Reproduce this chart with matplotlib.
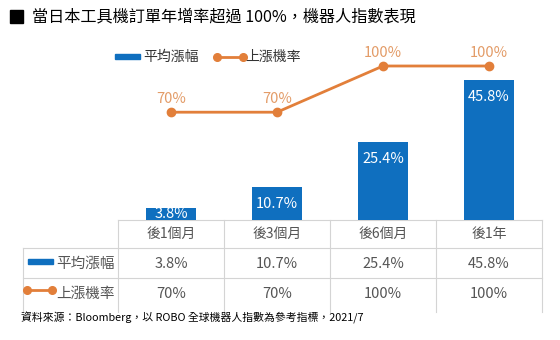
import matplotlib
matplotlib.use("Agg")
import matplotlib.pyplot as plt
from matplotlib.patches import Rectangle
from matplotlib.lines import Line2D

plt.rcParams['font.family'] = ['Noto Sans CJK TC', 'DejaVu Sans']

# data
periods = ["後1個月", "後3個月", "後6個月", "後1年"]
avg_gain = [3.8, 10.7, 25.4, 45.8]
up_prob = [70, 70, 100, 100]
bar_name = "平均漲幅"
line_name = "上漲機率"
title = "當日本工具機訂單年增率超過 100%，機器人指數表現"
source = "資料來源：Bloomberg，以 ROBO 全球機器人指數為參考指標，2021/7"

BLUE = "#0F6FBF"
ORANGE = "#E27F3A"
ORANGE_TXT = "#E39C68"
GRAY = "#555555"
GRID = "#D4D4D4"

W, H = 560, 340
fig = plt.figure(figsize=(W / 100, H / 100), dpi=100)

# overlay axes in pixel coords for table, title, legend
ov = fig.add_axes([0, 0, 1, 1])
ov.set_xlim(0, W)
ov.set_ylim(H, 0)
ov.axis("off")

# main chart axes
x0, x1, ybase, ytop = 118, 542, 220, 50
ax = fig.add_axes([x0 / W, 1 - ybase / H, (x1 - x0) / W, (ybase - ytop) / H])
ax.set_xlim(-0.5, len(periods) - 0.5)
ax.set_ylim(0, 170 / 3.057)
ax.axis("off")
ax2 = ax.twinx()
ax2.set_ylim(0, 170 / 1.54)
ax2.axis("off")

xs = list(range(len(periods)))
ax.bar(xs, avg_gain, width=0.47, color=BLUE, zorder=2)
for xi, v in zip(xs, avg_gain):
    yl = v / 2 if v < 6 else v - 5.6
    ax.text(xi, yl, f"{v}%", color="white", ha="center", va="center", fontsize=10.5)

ax2.plot(xs, up_prob, color=ORANGE, lw=2, marker="o", ms=6, zorder=3)
for xi, v in zip(xs, up_prob):
    ax2.text(xi, v + 8.5, f"{v}%", color=ORANGE_TXT, ha="center", va="center", fontsize=10.5)

# title
ov.add_patch(Rectangle((10, 10), 13, 13, color="black"))
ov.text(32, 17, title, fontsize=11.6, va="center", ha="left", color="black")

# legend
ov.add_patch(Rectangle((115, 54), 25, 5, color=BLUE))
ov.text(143, 57, bar_name, fontsize=10, va="center", ha="left", color="#333333")
ov.add_line(Line2D([217, 243], [57, 57], color=ORANGE, lw=2, marker="o", ms=5.5))
ov.text(245, 57, line_name, fontsize=10, va="center", ha="left", color="#333333")

# table grid
col_edges = [118 + i * 106 for i in range(len(periods) + 1)]
row_edges = [220, 248, 278, 312]
for ye in row_edges[:3]:
    xa = 118 if ye == 220 else 23
    ov.plot([xa, col_edges[-1]], [ye, ye], color=GRID, lw=0.8)
for xe in col_edges:
    ov.plot([xe, xe], [220, 312], color=GRID, lw=0.8)
ov.plot([23, 23], [248, 312], color=GRID, lw=0.8)

rc = [234, 264, 294]
for i, p in enumerate(periods):
    cx = (col_edges[i] + col_edges[i + 1]) / 2
    ov.text(cx, rc[0], p, fontsize=10, ha="center", va="center", color=GRAY)
    ov.text(cx, rc[1], f"{avg_gain[i]}%", fontsize=10.5, ha="center", va="center", color=GRAY)
    ov.text(cx, rc[2], f"{up_prob[i]}%", fontsize=10.5, ha="center", va="center", color=GRAY)

ov.add_patch(Rectangle((28, 259), 25, 5, color=BLUE))
ov.text(115, rc[1], bar_name, fontsize=10.5, ha="right", va="center", color=GRAY)
ov.add_line(Line2D([27, 52], [290, 290], color=ORANGE, lw=2, marker="o", ms=5.5))
ov.text(115, rc[2], line_name, fontsize=10.5, ha="right", va="center", color=GRAY)

# footer
ov.text(21, 318, source, fontsize=7.8, ha="left", va="center", color="black")

fig.savefig("out.png", dpi=100)
